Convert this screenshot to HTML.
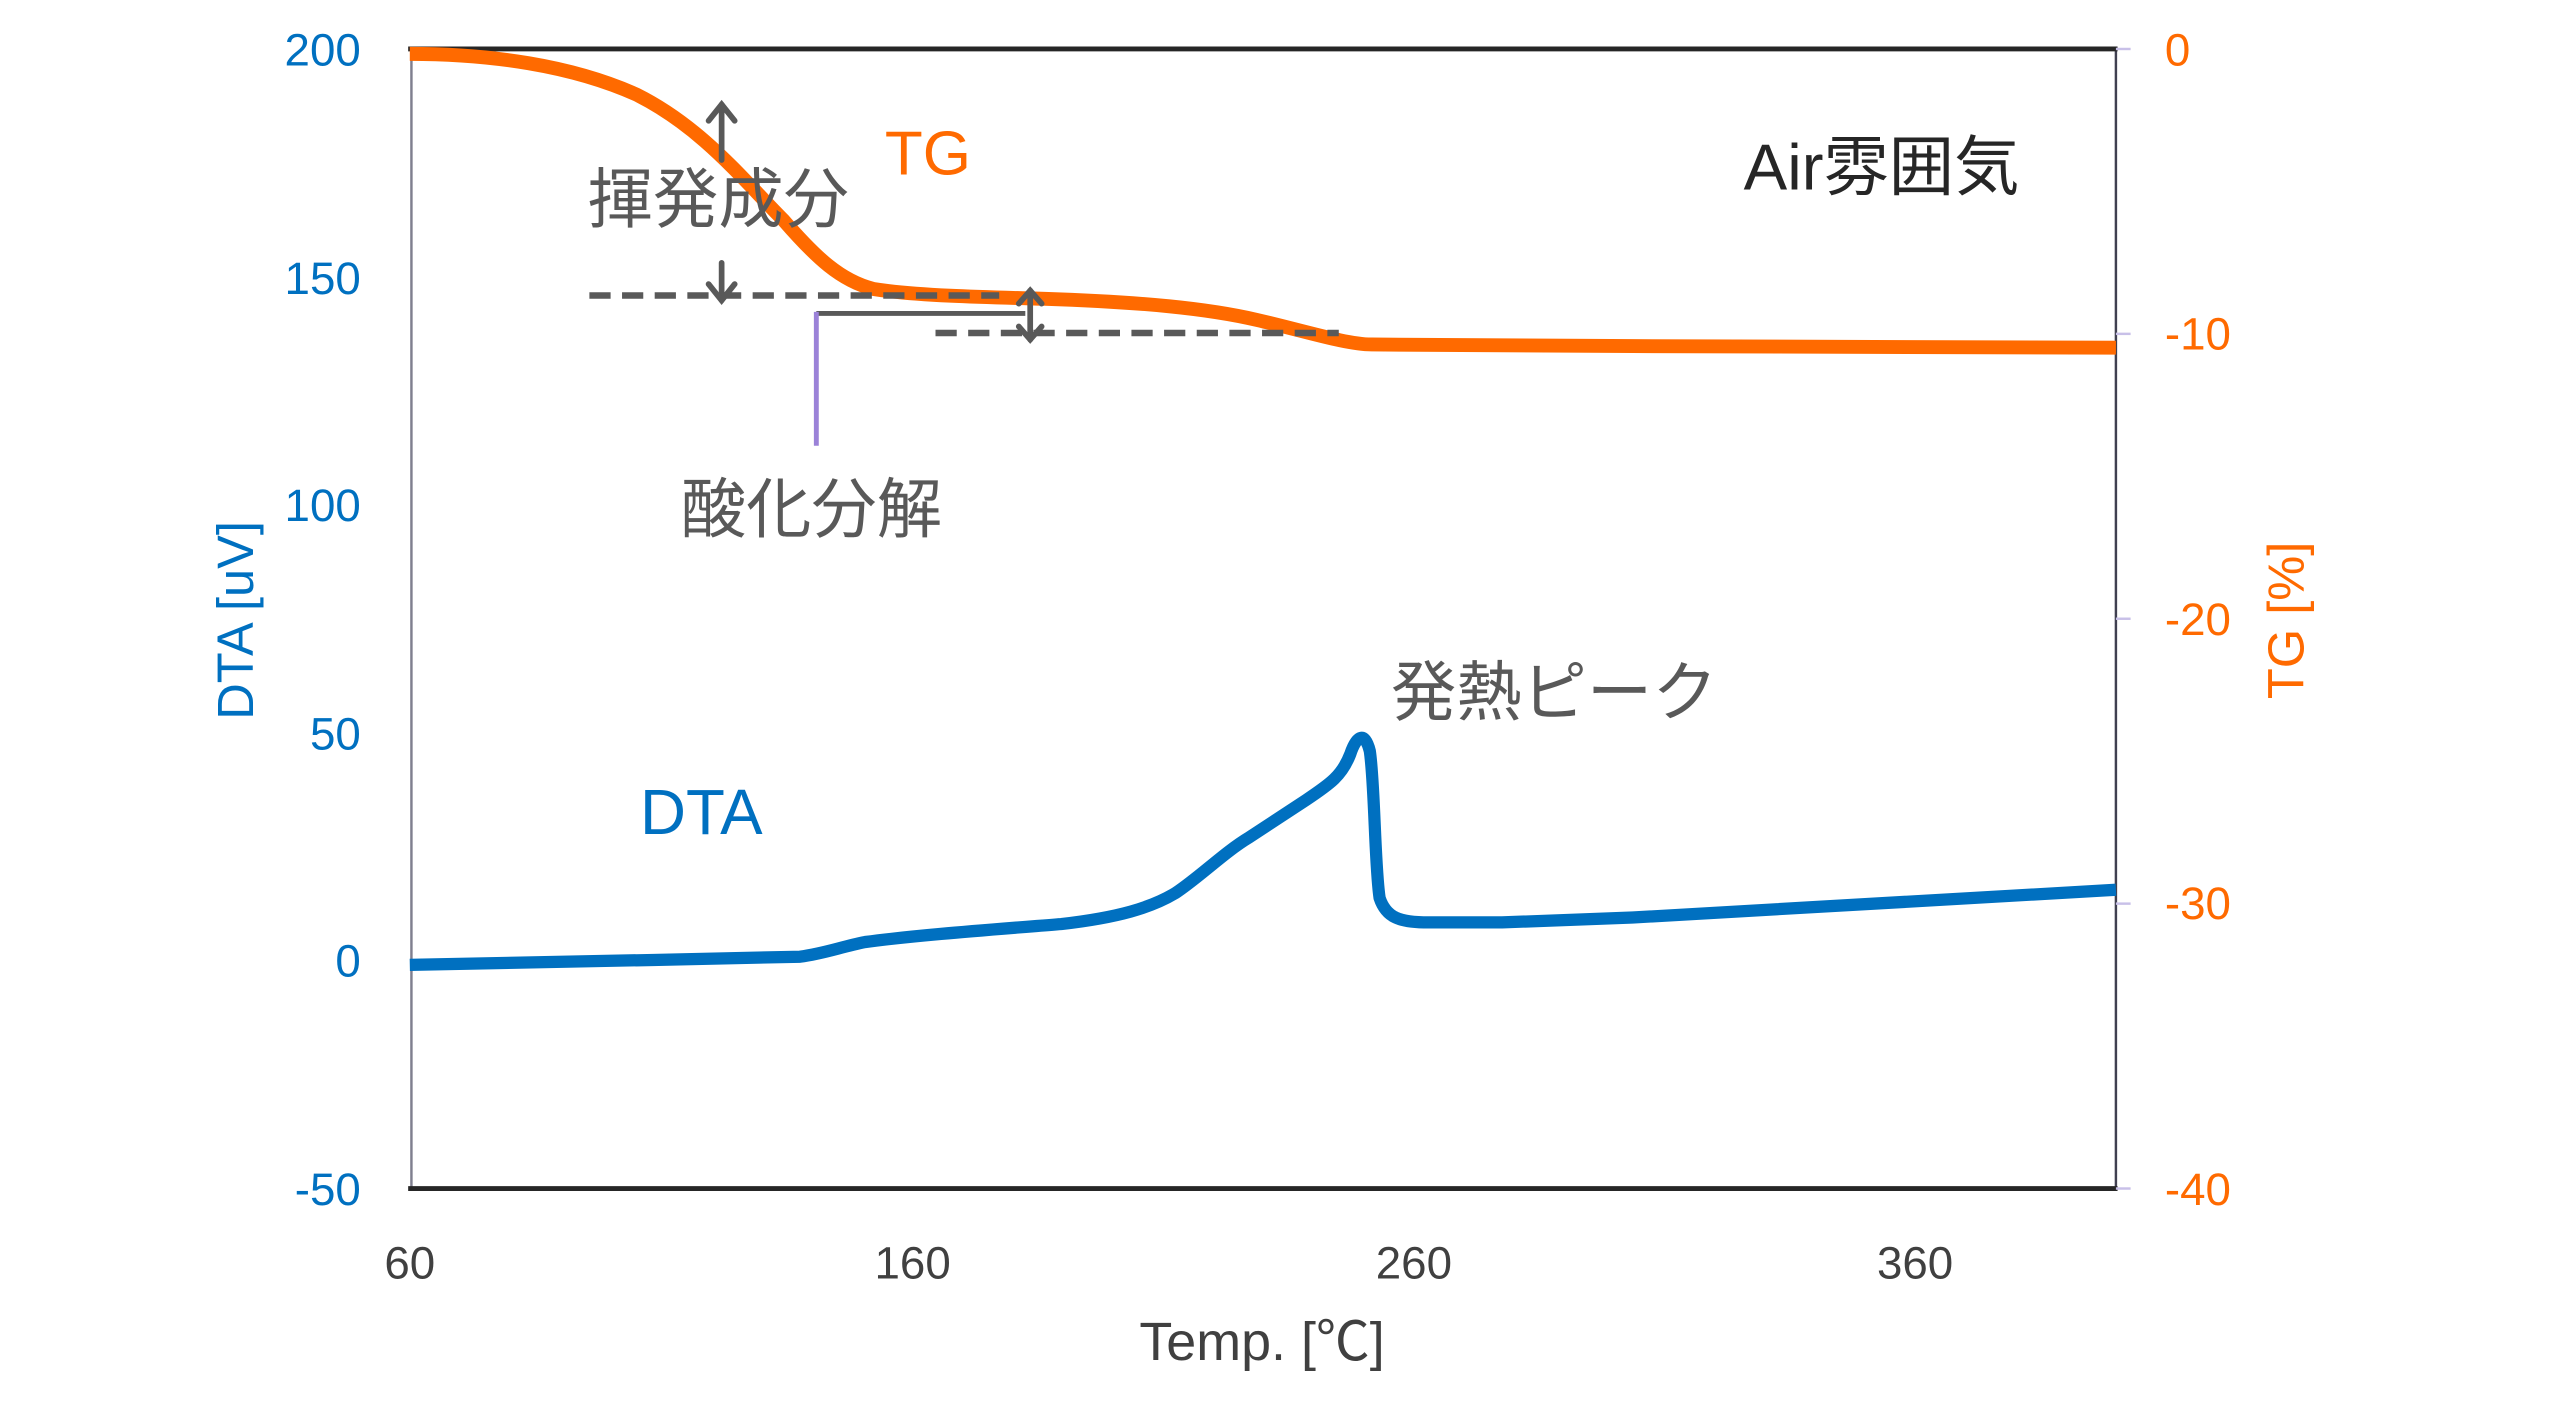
<!DOCTYPE html>
<html><head><meta charset="utf-8"><style>
html,body{margin:0;padding:0;background:#fff;}
svg{display:block;}
text{font-family:"Liberation Sans","Noto Sans CJK JP",sans-serif;}
</style></head><body>
<svg width="2560" height="1413" viewBox="0 0 1568 865.5" preserveAspectRatio="none" xmlns="http://www.w3.org/2000/svg">
<rect width="1568" height="865.5" fill="#fff"/>
<!-- frame -->
<line x1="252" y1="30" x2="252" y2="728" stroke="#7f7f8f" stroke-width="1.5"/>
<line x1="1296" y1="30" x2="1296" y2="728" stroke="#404050" stroke-width="1.5"/>
<line x1="250" y1="30" x2="1297" y2="30" stroke="#262626" stroke-width="3"/>
<line x1="250" y1="728" x2="1297" y2="728" stroke="#262626" stroke-width="3"/>
<g stroke="#c8c0e8" stroke-width="1.5">
<line x1="1296" y1="30" x2="1305" y2="30"/><line x1="1296" y1="204.5" x2="1305" y2="204.5"/>
<line x1="1296" y1="379" x2="1305" y2="379"/><line x1="1296" y1="553.5" x2="1305" y2="553.5"/>
<line x1="1296" y1="728" x2="1305" y2="728"/></g>
<!-- left ticks -->
<g fill="#0070c0" font-size="28" text-anchor="end">
<text x="221" y="40">200</text><text x="221" y="180">150</text><text x="221" y="319">100</text>
<text x="221" y="459">50</text><text x="221" y="598">0</text><text x="221" y="738">-50</text></g>
<g fill="#ff6a00" font-size="28">
<text x="1326" y="40">0</text><text x="1326" y="214">-10</text><text x="1326" y="389">-20</text>
<text x="1326" y="563">-30</text><text x="1326" y="738">-40</text></g>
<g fill="#404040" font-size="28" text-anchor="middle">
<text x="251" y="783">60</text><text x="559" y="783">160</text><text x="866" y="783">260</text><text x="1173" y="783">360</text></g>
<text x="773" y="833" fill="#404040" font-size="33" text-anchor="middle">Temp. [℃]</text>
<text transform="translate(155,380) rotate(-90)" fill="#0070c0" font-size="31" text-anchor="middle">DTA [uV]</text>
<text transform="translate(1411,380) rotate(-90)" fill="#ff6a00" font-size="31" text-anchor="middle">TG [%]</text>
<!-- TG curve -->
<path d="M251,33 C300,33 350,40 390,58 C430,78 455,110 480,135 C500,158 515,172 535,177 C560,181 600,182 640,183 C700,185 740,189 770,196 C800,203 825,211 840,211 L1000,212 L1296,213" fill="none" stroke="#ff6a00" stroke-width="8.5"/>
<!-- DTA curve -->
<path d="M251,591 L400,588 L490,586 C505,584 515,580 530,577 C560,573 600,570 650,566 C685,562 705,556 720,547 C735,537 750,522 765,513 L800,490 C815,480 822,475 827,462 C831,450 836,448 839,460 C842,480 842,530 845,550 C849,562 857,565 875,565 L920,565 L1000,562 L1296,545" fill="none" stroke="#0070c0" stroke-width="7.5" stroke-linejoin="round"/>
<!-- annotations -->
<line x1="361" y1="181" x2="612" y2="181" stroke="#595959" stroke-width="4" stroke-dasharray="13,7"/>
<line x1="573" y1="204" x2="820" y2="204" stroke="#595959" stroke-width="4" stroke-dasharray="13,7"/>
<line x1="500" y1="192" x2="628" y2="192" stroke="#595959" stroke-width="3"/>
<line x1="500" y1="191" x2="500" y2="273" stroke="#9b82d8" stroke-width="3"/>
<g stroke="#595959" stroke-width="3.5" fill="none" stroke-linecap="round">
<line x1="442" y1="98" x2="442" y2="64"/><polyline points="434,74 442,64 450,74"/>
<line x1="442" y1="161" x2="442" y2="184"/><polyline points="434,174 442,184 450,174"/>
<line x1="631" y1="178" x2="631" y2="208"/><polyline points="624,186 631,178 638,186"/><polyline points="624,200 631,208 638,200"/>
</g>
<g font-size="40" fill="#595959">
<text x="360" y="136">揮発成分</text>
<text x="417" y="326">酸化分解</text>
<text x="852" y="438">発熱ピーク</text>
</g>
<text x="1068" y="116" font-size="40" fill="#262626">Air雰囲気</text>
<text x="542" y="107" font-size="38" fill="#ff6a00">TG</text>
<text x="392" y="511" font-size="39" fill="#0070c0">DTA</text>
</svg>
</body></html>
